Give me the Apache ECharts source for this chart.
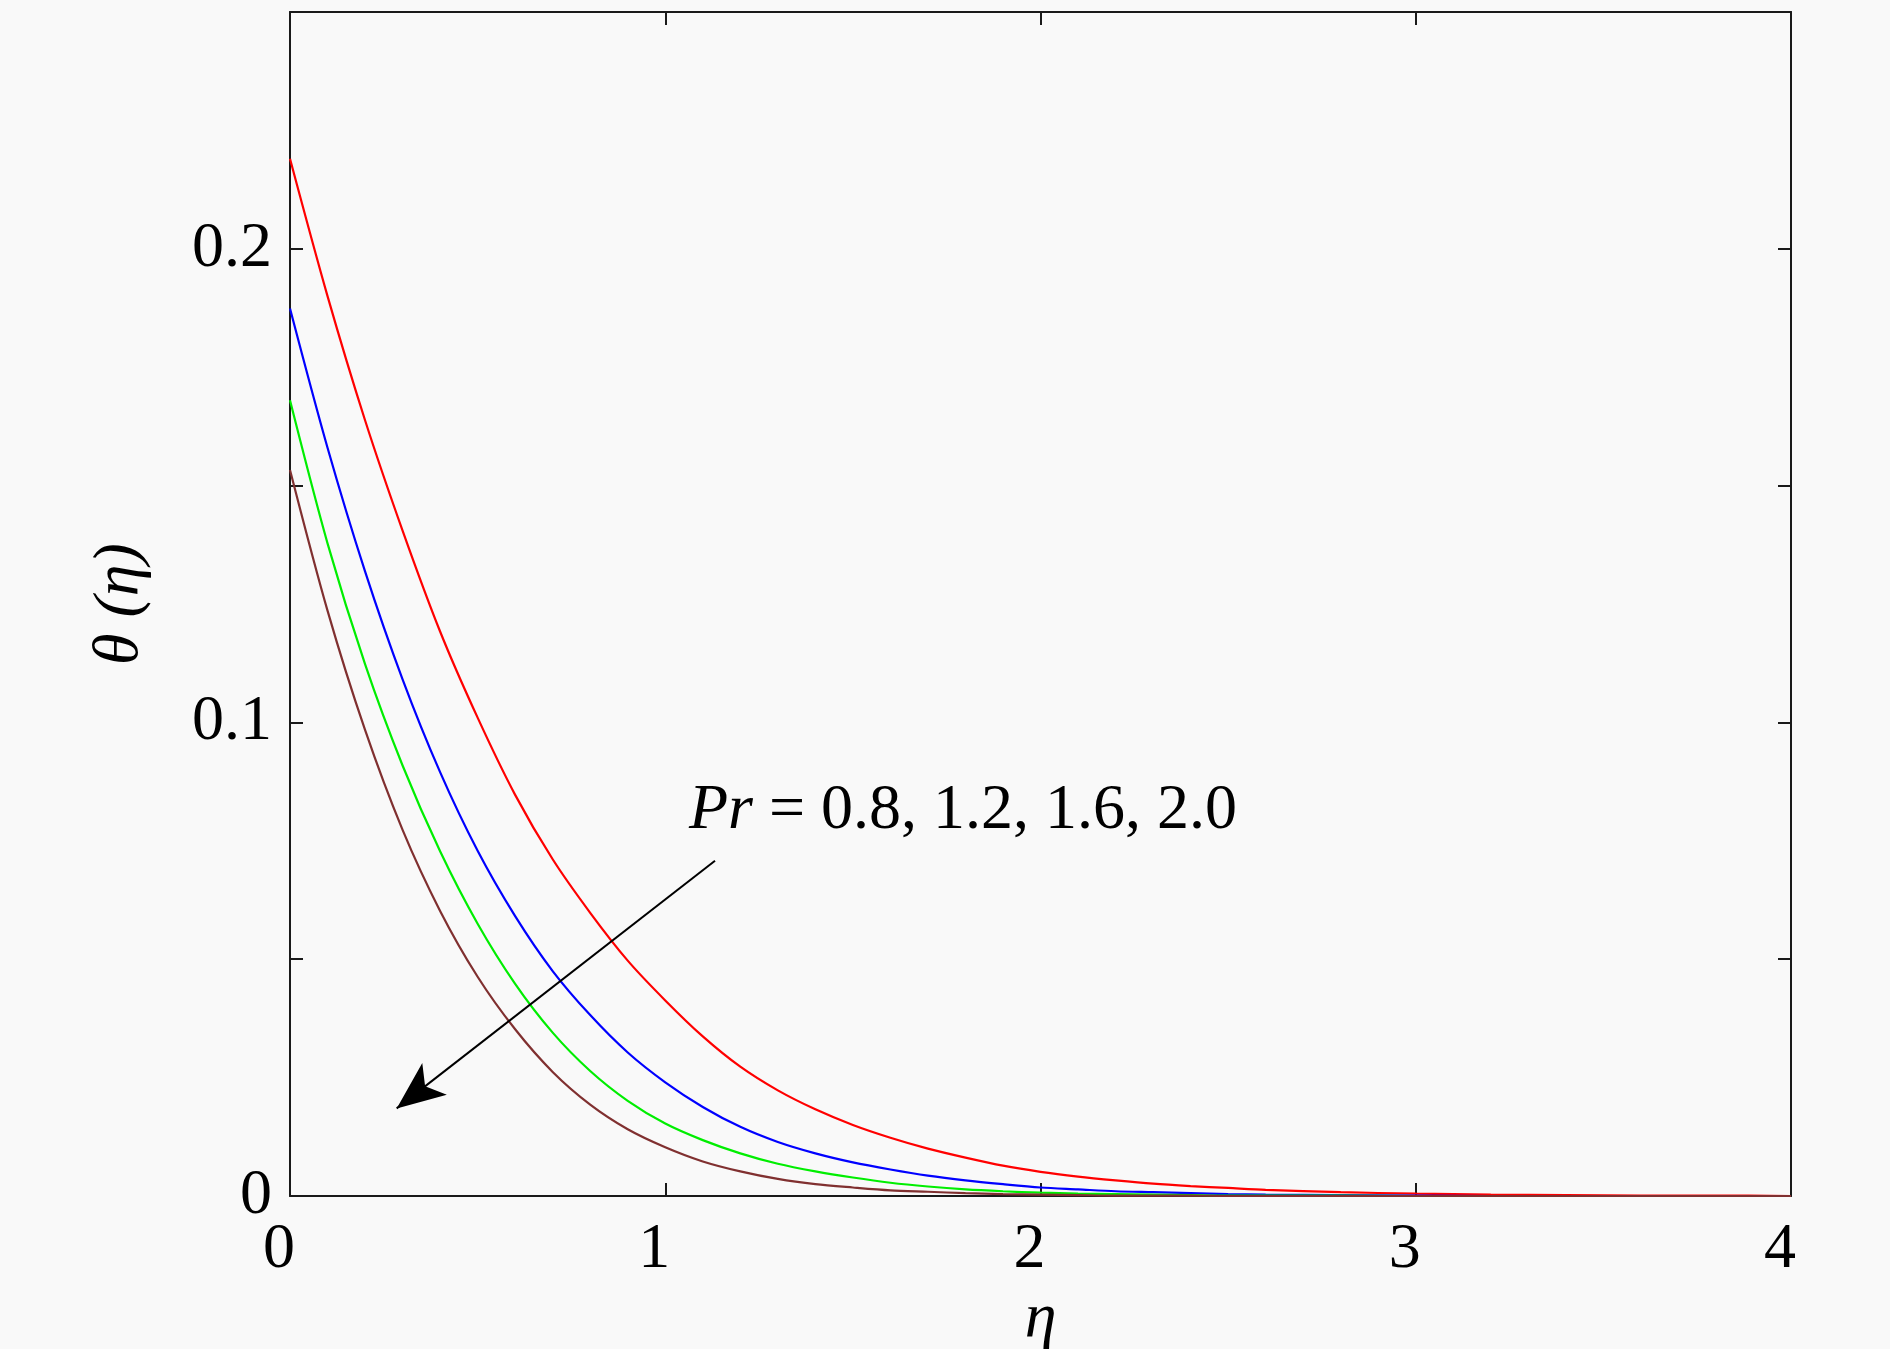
<!DOCTYPE html>
<html>
<head>
<meta charset="utf-8">
<script src="https://cdn.jsdelivr.net/npm/echarts@6/dist/echarts.min.js"></script>
<style>
html,body{margin:0;padding:0;background:#f9f9f9;}
#chart{width:1890px;height:1349px;}
</style>
</head>
<body>
<div id="chart"></div>
<script>
// eta grid (x values)
const eta = [0, 0.1, 0.2, 0.3, 0.4, 0.5, 0.6, 0.7, 0.8, 0.9, 1.0,
  1.1, 1.2, 1.3, 1.4, 1.5, 1.6, 1.7, 1.8, 1.9, 2.0,
  2.1, 2.2, 2.3, 2.4, 2.5, 2.6, 2.8, 3.0, 3.2, 3.4, 3.6, 3.8, 4.0];
// theta(eta) for Pr = 0.8, 1.2, 1.6, 2.0
const thetaPr08 = [0.219, 0.190, 0.1638, 0.1405, 0.1192, 0.1010, 0.0847, 0.0711, 0.0598, 0.0497, 0.0413,
  0.0337, 0.0273, 0.0223, 0.0183, 0.0150, 0.0123, 0.0100, 0.0081, 0.0064, 0.0051,
  0.0041, 0.0033, 0.0026, 0.0021, 0.0017, 0.0013, 0.0008, 0.0005, 0.0003, 0.0002, 0.0001, 0.0001, 0.0];
const thetaPr12 = [0.1874, 0.158, 0.1319, 0.1091, 0.0895, 0.0729, 0.0591, 0.0475, 0.0382, 0.0303, 0.0240,
  0.0188, 0.0146, 0.0114, 0.0090, 0.0071, 0.0056, 0.0043, 0.0033, 0.0025, 0.0018,
  0.0014, 0.0010, 0.0008, 0.0006, 0.0004, 0.0003, 0.0002, 0.0001, 0.0, 0.0, 0.0, 0.0, 0.0];
const thetaPr16 = [0.168, 0.1378, 0.1123, 0.0909, 0.0728, 0.0575, 0.0448, 0.0345, 0.0264, 0.0201, 0.0153,
  0.0118, 0.0090, 0.0068, 0.0052, 0.0039, 0.0028, 0.0020, 0.0014, 0.0010, 0.0007,
  0.0005, 0.0004, 0.0003, 0.0002, 0.0001, 0.0001, 0.0001, 0.0, 0.0, 0.0, 0.0, 0.0, 0.0];
const thetaPr20 = [0.1533, 0.1236, 0.0984, 0.0773, 0.0602, 0.0463, 0.0352, 0.0262, 0.0193, 0.0141, 0.0103,
  0.0073, 0.0052, 0.0036, 0.0025, 0.0018, 0.0012, 0.0009, 0.0006, 0.0004, 0.0003,
  0.0002, 0.0001, 0.0001, 0.0001, 0.0, 0.0, 0.0, 0.0, 0.0, 0.0, 0.0, 0.0, 0.0];
const seriesNames = ['Pr = 0.8', 'Pr = 1.2', 'Pr = 1.6', 'Pr = 2.0'];
const seriesColors = ['#ff0000', '#0000ff', '#00ee00', '#803030'];
const xTickLabels = ['0', '1', '2', '3', '4'];
const yTickLabels = ['0', '0.1', '0.2'];
// annotation arrow (data coordinates) and text anchor
const arrowStart = [1.1326, 0.0708];
const arrowEnd = [0.2843, 0.0185];
const annotationAnchor = [1.063, 0.0812];
const annotationValues = '0.8, 1.2, 1.6, 2.0';

const FONT = '"Liberation Serif", "Times New Roman", serif';
const allSeries = [thetaPr08, thetaPr12, thetaPr16, thetaPr20];

const chart = echarts.init(document.getElementById('chart'), null, {renderer: 'canvas'});

const axisLineStyle = {color: '#1a1a1a', width: 2};
const series = allSeries.map((vals, i) => ({
  name: seriesNames[i],
  type: 'line',
  data: eta.map((x, k) => [x, vals[k]]),
  showSymbol: false,
  smooth: 0.3,
  lineStyle: {color: seriesColors[i], width: 2.2},
  itemStyle: {color: seriesColors[i]},
  z: 3
}));

series.push({
  type: 'line',
  data: [],
  silent: true,
  markLine: {
    silent: true,
    animation: false,
    symbol: ['none', 'arrow'],
    symbolSize: [30, 48],
    label: {show: false},
    lineStyle: {color: '#000', width: 2, type: 'solid'},
    data: [[{coord: arrowStart, symbol: 'none'}, {coord: arrowEnd, symbol: 'arrow'}]]
  },
  markPoint: {
    silent: true,
    animation: false,
    symbol: 'circle',
    symbolSize: 0,
    label: {
      show: true,
      position: 'right',
      distance: 0,
      color: '#000',
      fontFamily: FONT,
      fontSize: 64,
      formatter: '{i|Pr}{n| = ' + annotationValues + '}',
      rich: {
        i: {fontStyle: 'italic', fontFamily: FONT, fontSize: 64, color: '#000'},
        n: {fontFamily: FONT, fontSize: 64, color: '#000'}
      }
    },
    data: [{coord: annotationAnchor}]
  }
});

chart.setOption({
  backgroundColor: '#f9f9f9',
  animation: false,
  grid: {left: 290, right: 99, top: 12, bottom: 153, containLabel: false, outerBoundsMode: 'none'},
  xAxis: [{
    type: 'value', min: 0, max: 4, interval: 1, position: 'bottom',
    name: 'η', nameLocation: 'middle', nameGap: 66,
    nameTextStyle: {fontFamily: FONT, fontSize: 64, fontStyle: 'italic', color: '#000'},
    axisLine: {show: true, onZero: false, lineStyle: axisLineStyle},
    axisTick: {show: true, inside: true, length: 13, lineStyle: axisLineStyle},
    axisLabel: {show: true, margin: 22, fontFamily: FONT, fontSize: 64, color: '#000', padding: [0, 22, 0, 0],
      formatter: (v) => xTickLabels[Math.round(v)]},
    splitLine: {show: false}
  }, {
    type: 'value', min: 0, max: 4, interval: 1, position: 'top',
    axisLine: {show: true, onZero: false, lineStyle: axisLineStyle},
    axisTick: {show: true, inside: true, length: 13, lineStyle: axisLineStyle},
    axisLabel: {show: false},
    splitLine: {show: false}
  }],
  yAxis: [{
    type: 'value', min: 0, max: 0.25, interval: 0.05, position: 'left',
    name: 'θ (η)', nameLocation: 'middle', nameGap: 138, nameRotate: 90,
    nameTextStyle: {fontFamily: FONT, fontSize: 64, fontStyle: 'italic', color: '#000'},
    axisLine: {show: true, onZero: false, lineStyle: axisLineStyle},
    axisTick: {show: true, inside: true, length: 13, lineStyle: axisLineStyle},
    axisLabel: {show: true, margin: 18, fontFamily: FONT, fontSize: 64, color: '#000',
      formatter: (v) => {
        const k = Math.round(v * 100);
        return k % 10 === 0 ? yTickLabels[k / 10] : '';
      }},
    splitLine: {show: false}
  }, {
    type: 'value', min: 0, max: 0.25, interval: 0.05, position: 'right',
    axisLine: {show: true, onZero: false, lineStyle: axisLineStyle},
    axisTick: {show: true, inside: true, length: 13, lineStyle: axisLineStyle},
    axisLabel: {show: false},
    splitLine: {show: false}
  }],
  series: series
});
</script>
</body>
</html>
